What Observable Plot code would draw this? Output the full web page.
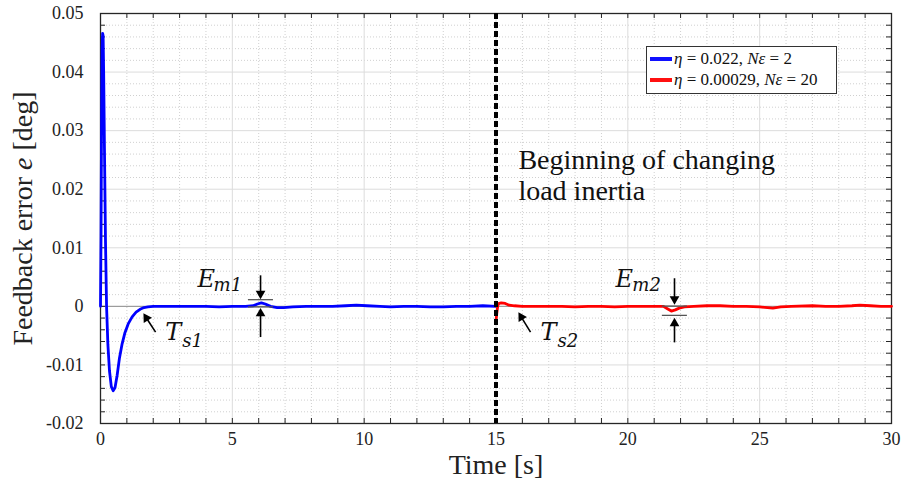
<!DOCTYPE html>
<html><head><meta charset="utf-8">
<script src="https://cdn.jsdelivr.net/npm/d3@7"></script>
<script src="https://cdn.jsdelivr.net/npm/@observablehq/plot@0.6"></script>
<style>
body{margin:0;background:#fff;}
#wrap{position:relative;width:902px;height:488px;font-family:"Liberation Serif",serif;}
#legend{position:absolute;left:646px;top:46px;width:189px;height:46px;border:1px solid #333;background:#fff;font-size:17px;color:#111;font-family:"Liberation Serif",serif;}
.row{position:absolute;left:3px;display:flex;align-items:center;white-space:nowrap;line-height:20px;}
.sw{display:inline-block;width:22px;height:4px;margin-right:2px;}
</style></head><body>
<div id="wrap"><div id="legend">
<div class="row" style="top:2px"><span class="sw" style="background:#1010ff"></span><span><i>η</i> = 0.022, <i>Nε</i> = 2</span></div>
<div class="row" style="top:23px"><span class="sw" style="background:#ff1010"></span><span><i>η</i> = 0.00029, <i>Nε</i> = 20</span></div>
</div></div>
<script>
// ---- data ----
const blueT = [0,0.02,0.04,0.06,0.08,0.10,0.12,0.15,0.19,0.23,0.28,0.34,0.41,0.48,0.55,0.63,0.72,0.82,0.92,1.05,1.2,1.35,1.5,1.65,1.8,2.0,2.5,3.0,3.5,4.0,4.5,5.0,5.5,5.8,5.95,6.1,6.25,6.45,6.7,6.95,7.3,7.8,8.3,8.8,9.3,9.7,10.1,10.6,11.0,11.5,12.0,12.5,13.0,13.5,14.0,14.5,15.0];
const blueV = [0,0.012,0.032,0.044,0.0466,0.0462,0.040,0.027,0.011,0,-0.0065,-0.011,-0.0137,-0.0144,-0.0139,-0.0118,-0.0088,-0.0064,-0.0046,-0.003,-0.0018,-0.001,-0.0005,-0.0002,-0.0001,0,0,0,0,0,-0.0001,0,0,0.0001,0.0004,0.0006,0.0004,0,-0.0002,-0.0002,-0.0001,0,0,0,0.0001,0.0002,0.0001,0,-0.0001,0,0,-0.0001,-0.0001,0,0,0.0001,0];
const redT = [15.0,15.03,15.07,15.12,15.2,15.35,15.5,15.7,16.0,16.5,17.0,17.5,18.0,18.5,19.0,19.5,20.0,20.5,21.0,21.35,21.5,21.65,21.8,21.95,22.15,22.5,23.0,23.5,24.0,24.5,25.0,25.5,25.8,26.2,27.0,27.5,28.0,28.5,28.8,29.2,29.6,30.0];
const redV = [-0.0025,-0.0012,0.0002,0.0005,0.0006,0.0005,0.0002,0.0001,0,0,0,0,-0.0001,0,0,-0.0001,0,0,0,0,-0.0004,-0.0008,-0.0006,-0.0003,-0.0001,0,0.0001,0.0001,0,0,-0.0001,-0.0003,-0.0001,0,0.0001,0,0,0.0001,0.0002,0.0001,0,0];
const xTicks = [0,5,10,15,20,25,30];
const yTicks = [-0.02,-0.01,0,0.01,0.02,0.03,0.04,0.05];
const changeTime = [15];
const noteText = ["Beginning of changing\nload inertia"];

// annotations (data coordinates)
const annMain = [{t:3.68,v:0.00324,s:"E"},{t:2.46,v:-0.0058,s:"T"},{t:19.53,v:0.00324,s:"E"},{t:16.69,v:-0.0058,s:"T"}];
const annSub  = [{t:4.29,v:0.00256,s:"m1"},{t:3.1,v:-0.0070,s:"s1"},{t:20.17,v:0.00256,s:"m2"},{t:17.33,v:-0.0070,s:"s2"}];
const emLines = [{t1:5.61,t2:6.56,v:0.00114},{t1:5.61,t2:6.56,v:-0.0001},{t1:21.31,t2:22.26,v:0.00005},{t1:21.31,t2:22.26,v:-0.00154}];
const shafts = [
  {t1:6.07,v1:0.0053,t2:6.07,v2:0.0022},{t1:6.07,v1:-0.00524,t2:6.07,v2:-0.0012},
  {t1:21.77,v1:0.0048,t2:21.77,v2:0.0012},{t1:21.77,v1:-0.00615,t2:21.77,v2:-0.0029},
  {t1:2.09,v1:-0.0044,t2:1.74,v2:-0.00198},{t1:16.31,v1:-0.0044,t2:15.96,v2:-0.00183}];
const heads = [
  {t:6.07,v:0.00219,a:180},{t:6.07,v:-0.00123,a:0},
  {t:21.77,v:0.00123,a:180},{t:21.77,v:-0.0029,a:0},
  {t:1.74,v:-0.00198,a:-32},{t:15.96,v:-0.00183,a:-31}];

const blue = blueT.map((t,i)=>({t, v:blueV[i]}));
const red = redT.map((t,i)=>({t, v:redV[i]}));
const xMinor = d3.range(0,31,1).filter(d=>d%5!==0);
const yMinor = d3.range(-20,51,2).filter(d=>d%10!==0).map(d=>d/1000);
const xAll = d3.range(0,31,1);
const yAll = d3.range(-20,51,2).map(d=>d/1000);

const W=902,H=488,ML=100,MR=11,MT=13,MB=65;
const fw=W-ML-MR, fh=H-MT-MB;
const serif = "Liberation Serif, serif";
const mathF = "DejaVu Serif, serif";

const chart = Plot.plot({
  width:W, height:H, marginLeft:ML, marginRight:MR, marginTop:MT, marginBottom:MB,
  x:{domain:[0,30]}, y:{domain:[-0.02,0.05]},
  style:{fontFamily:serif, background:"#fff"},
  marks:[
    Plot.ruleX(xMinor,{stroke:"#d0d0d0", strokeDasharray:"1,2"}),
    Plot.ruleY(yMinor,{stroke:"#d0d0d0", strokeDasharray:"1,2"}),
    Plot.ruleX(xTicks,{stroke:"#dcdcdc"}),
    Plot.ruleY(yTicks,{stroke:"#dcdcdc"}),
    Plot.ruleY([0],{stroke:"#8f8f8f"}),
    Plot.ruleX(xAll,{insetTop:fh-5, stroke:"#262626"}),
    Plot.ruleX(xAll,{insetBottom:fh-5, stroke:"#262626"}),
    Plot.ruleY(yAll,{insetRight:fw-5, stroke:"#262626"}),
    Plot.ruleY(yAll,{insetLeft:fw-5, stroke:"#262626"}),
    Plot.frame({stroke:"#262626", strokeWidth:1.3}),
    Plot.axisX(xTicks,{tickSize:0, tickPadding:9, fontSize:18, fontFamily:serif, fill:"#222", tickFormat:d=>String(d), label:null}),
    Plot.axisY(yTicks,{tickSize:0, tickPadding:17, fontSize:18, fontFamily:serif, fill:"#222", tickFormat:d=>d===0?"0":d.toFixed(2), label:null}),
    Plot.text(["Time [s]"],{frameAnchor:"bottom", dy:50, fontSize:28, fontFamily:serif, fill:"#222"}),
    Plot.text(["Feedback error e [deg]"],{frameAnchor:"left", textAnchor:"middle", dx:-77, rotate:-90, fontSize:28, fontFamily:serif, fill:"#222"}),
    Plot.line(blue,{x:"t", y:"v", stroke:"#0000ff", strokeWidth:2.8, strokeLinejoin:"round"}),
    Plot.line(red,{x:"t", y:"v", stroke:"#ff0000", strokeWidth:2.8, strokeLinejoin:"round"}),
    Plot.ruleX(changeTime,{stroke:"#000", strokeWidth:4, strokeDasharray:"6,3"}),
    Plot.text(noteText,{x:15.85, y:0.0274, textAnchor:"start", lineAnchor:"top", lineHeight:1.14, fontSize:28, fontFamily:serif, fill:"#111"}),
    Plot.ruleY(emLines,{x1:"t1", x2:"t2", y:"v", stroke:"#555", strokeWidth:1.3}),
    Plot.link(shafts,{x1:"t1", y1:"v1", x2:"t2", y2:"v2", stroke:"#000", strokeWidth:1.6}),
    Plot.dot(heads,{x:"t", y:"v", rotate:"a", symbol:"triangle", r:3.6, fill:"#000", stroke:"none"}),
    Plot.text(annMain,{x:"t", y:"v", text:"s", textAnchor:"start", lineAnchor:"bottom", fontSize:24, fontStyle:"italic", fontFamily:mathF, fill:"#111"}),
    Plot.text(annSub,{x:"t", y:"v", text:"s", textAnchor:"start", lineAnchor:"bottom", fontSize:18, fontStyle:"italic", fontFamily:mathF, fill:"#111"})
  ]
});
const wrap = document.getElementById("wrap");
wrap.insertBefore(chart, wrap.firstChild);
chart.style.display="block";
// italic e in y label
chart.querySelectorAll("text").forEach(t=>{
  if (t.textContent==="Feedback error e [deg]") {
    t.textContent="";
    const ns="http://www.w3.org/2000/svg";
    const a=document.createElementNS(ns,"tspan"); a.textContent="Feedback error ";
    const b=document.createElementNS(ns,"tspan"); b.textContent="e"; b.setAttribute("font-style","italic");
    const c=document.createElementNS(ns,"tspan"); c.textContent=" [deg]";
    t.append(a,b,c);
  }
});
</script>
</body></html>
